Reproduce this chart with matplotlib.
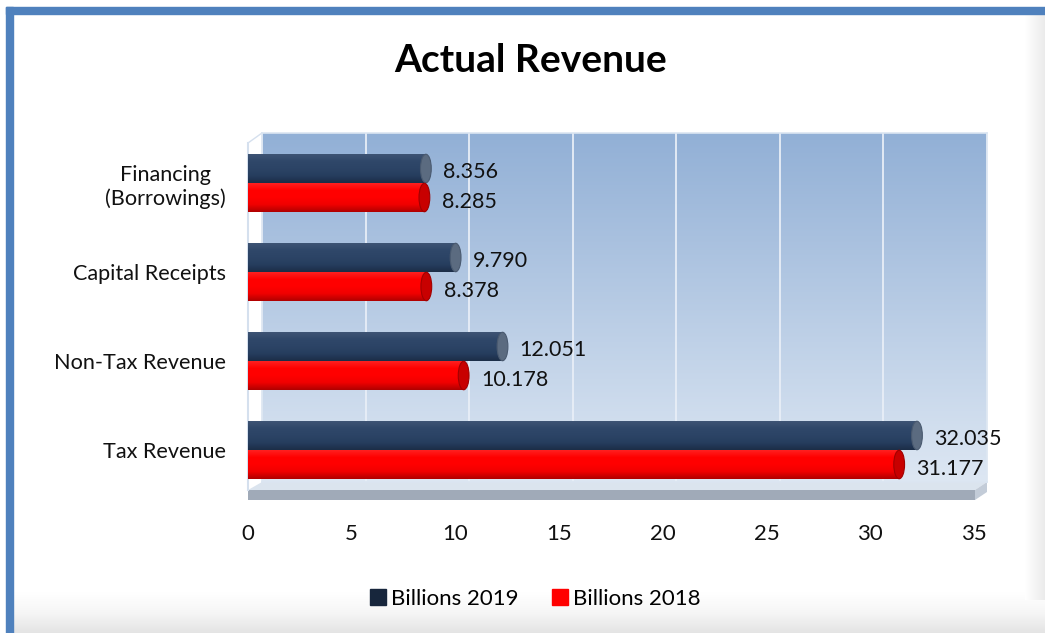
import numpy as np
import matplotlib
matplotlib.use("Agg")
import matplotlib.pyplot as plt
from matplotlib.patches import Rectangle, Ellipse, Polygon
from matplotlib.colors import LinearSegmentedColormap

plt.rcParams['font.family'] = ['Lato', 'DejaVu Sans']

categories = ["Tax Revenue", "Non-Tax Revenue", "Capital Receipts", "Financing\n(Borrowings)"]
values_2019 = [32.035, 12.051, 9.790, 8.356]
values_2018 = [31.177, 10.178, 8.378, 8.285]
labels_2019 = ["32.035", "12.051", "9.790", "8.356"]
labels_2018 = ["31.177", "10.178", "8.378", "8.285"]
series_names = ["Billions 2019", "Billions 2018"]
xticks = [0, 5, 10, 15, 20, 25, 30, 35]

W, H = 1045, 633
fig = plt.figure(figsize=(W / 100, H / 100), dpi=100)
fig.patch.set_facecolor("white")

def fx(px):
    return px / W

def fy(py):
    return 1 - py / H

# ---------- decorative background (figure pixel coordinates) ----------
bg = fig.add_axes([0, 0, 1, 1], zorder=0)
bg.set_xlim(0, W)
bg.set_ylim(H, 0)
bg.axis("off")
cm_bot = LinearSegmentedColormap.from_list("b", ["#ffffff", "#f6f6f6", "#e4e4e4"])
bg.imshow(np.linspace(0, 1, 100).reshape(-1, 1), extent=[12, W, H, 592], cmap=cm_bot,
          aspect="auto", zorder=1)
cm_r = LinearSegmentedColormap.from_list("r", ["#ffffff", "#ebebeb"])
bg.imshow(np.linspace(0, 1, 100).reshape(1, -1), extent=[1025, W, 600, 13], cmap=cm_r,
          aspect="auto", zorder=1)
# blue border (top and left)
bg.add_patch(Rectangle((6, 7), W - 6, 6.5, color="#4f81bd", zorder=3))
bg.add_patch(Rectangle((6, 7), 6.5, H - 7, color="#4f81bd", zorder=3))

# floor of the 3D plot
floor_top = Polygon([[262, 482], [987, 482], [975, 490], [248, 490]], closed=True,
                    facecolor="#dbe4ee", edgecolor="none", zorder=2)
floor_front = Polygon([[248, 490], [975, 490], [975, 500], [248, 500]], closed=True,
                      facecolor="#a0aab8", edgecolor="none", zorder=2)
floor_side = Polygon([[975, 490], [987, 482], [987, 492], [975, 500]], closed=True,
                     facecolor="#c3ccd8", edgecolor="none", zorder=2)
for p in (floor_top, floor_front, floor_side):
    bg.add_patch(p)
bg.plot([248, 248], [143, 490], color="#d5e0ee", lw=1.5, zorder=2)
bg.plot([248, 262], [143, 133], color="#d5e0ee", lw=1.0, zorder=2)

# ---------- back wall with gridlines ----------
wall = fig.add_axes([fx(262), fy(482), fx(987 - 262), fy(133) - fy(482)], zorder=1)
wall.set_xlim(0, 35)
wall.set_ylim(0, 1)
cm_wall = LinearSegmentedColormap.from_list("w", ["#dde7f3", "#92b0d6"])
wall.imshow(np.linspace(0, 1, 200).reshape(-1, 1), extent=[0, 35, 0, 1], origin="lower",
            cmap=cm_wall, aspect="auto", zorder=0)
wall.set_xticks(xticks)
wall.grid(axis="x", color="#e8eef7", lw=1.3, zorder=1)
wall.tick_params(left=False, bottom=False, labelleft=False, labelbottom=False)
for s in wall.spines.values():
    s.set_color("#dbe5f1")
    s.set_linewidth(1.2)

# ---------- data axes (front plane) ----------
x0, xs = 248, 20.74
ax = fig.add_axes([fx(x0), fy(494.5), fx(35 * xs), fy(138.5) - fy(494.5)], zorder=2)
ax.set_facecolor("none")
ax.set_xlim(0, 35)
ax.set_ylim(-0.5, 3.5)
for s in ax.spines.values():
    s.set_visible(False)

bh = 0.32
off = 0.163
depth = 0.22  # 3D depth shift of the end cap
y = np.arange(len(categories))

def cylinder(yc, val, colors, cap_color, cap_edge):
    rect = ax.barh(yc, val + depth, height=bh, color=colors[2], zorder=3)[0]
    cm = LinearSegmentedColormap.from_list("c", colors)
    im = ax.imshow(np.linspace(0, 1, 64).reshape(-1, 1),
                   extent=[0, val + depth, yc - bh / 2, yc + bh / 2],
                   origin="lower", cmap=cm, aspect="auto", zorder=4)
    im.set_clip_path(rect)
    ax.add_patch(Ellipse((0.08, yc), 0.4, bh * 0.98, facecolor=colors[2], edgecolor="none", zorder=3))
    ax.add_patch(Ellipse((val + depth, yc), 0.52, bh, facecolor=cap_color, edgecolor=cap_edge,
                         lw=0.8, zorder=5))

navy = ["#1c2e48", "#263d5e", "#2c4466", "#2f4769", "#3e5474"]
red = ["#b00000", "#f00000", "#ff0000", "#ff0000", "#ff2020"]
for i in range(len(categories)):
    cylinder(y[i] + off, values_2019[i], navy, "#5b6b80", "#4a5a70")
    cylinder(y[i] - off, values_2018[i], red, "#c80000", "#a00000")
    ax.text(values_2019[i] + 1.05, y[i] + off - 0.045, labels_2019[i], va="center", ha="left",
            fontsize=15.5, color="#111111", zorder=6)
    ax.text(values_2018[i] + 1.05, y[i] - off - 0.045, labels_2018[i], va="center", ha="left",
            fontsize=15.5, color="#111111", zorder=6)

ax.set_yticks(y)
ax.set_yticklabels(categories, fontsize=15.6, color="#111111", multialignment="center")
ax.set_xticks(xticks)
ax.set_xticklabels([str(t) for t in xticks], fontsize=16, color="#111111")
ax.tick_params(axis="y", length=0, pad=16)
ax.tick_params(axis="x", length=0, pad=21)

# legend
h1 = plt.Line2D([], [], marker="s", color="none", markerfacecolor="#17263c",
                markeredgecolor="#17263c", markersize=11)
h2 = plt.Line2D([], [], marker="s", color="none", markerfacecolor="#ff0000",
                markeredgecolor="#ff0000", markersize=11)
fig.legend([h1, h2], series_names, loc="center", bbox_to_anchor=(fx(536), fy(599)), ncol=2,
           frameon=False, fontsize=16, handlelength=0.6, handletextpad=0.25, columnspacing=1.6)

fig.text(fx(531), fy(60), "Actual Revenue", ha="center", va="center", fontsize=28,
         fontweight="bold", color="#000000")

fig.savefig("out.png", dpi=100)
